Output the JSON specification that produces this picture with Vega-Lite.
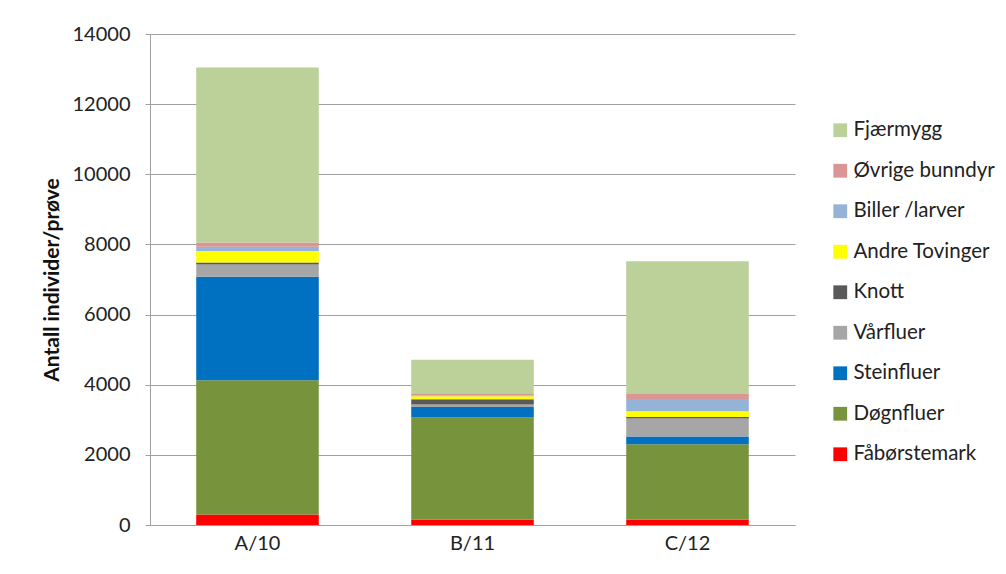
{
  "$schema": "https://vega.github.io/schema/vega-lite/v6.json",
  "width": 645,
  "height": 491,
  "autosize": "none",
  "padding": {"left": 150, "top": 34, "right": 211, "bottom": 49},
  "background": "white",
  "data": {
    "values": [
      {"stasjon": "A/10", "gruppe": "Fåbørstemark", "o": 1, "antall": 300},
      {"stasjon": "A/10", "gruppe": "Døgnfluer", "o": 2, "antall": 3830},
      {"stasjon": "A/10", "gruppe": "Steinfluer", "o": 3, "antall": 2950},
      {"stasjon": "A/10", "gruppe": "Vårfluer", "o": 4, "antall": 350},
      {"stasjon": "A/10", "gruppe": "Knott", "o": 5, "antall": 57},
      {"stasjon": "A/10", "gruppe": "Andre Tovinger", "o": 6, "antall": 323},
      {"stasjon": "A/10", "gruppe": "Biller /larver", "o": 7, "antall": 123},
      {"stasjon": "A/10", "gruppe": "Øvrige bunndyr", "o": 8, "antall": 125},
      {"stasjon": "A/10", "gruppe": "Fjærmygg", "o": 9, "antall": 4990},
      {"stasjon": "B/11", "gruppe": "Fåbørstemark", "o": 1, "antall": 150},
      {"stasjon": "B/11", "gruppe": "Døgnfluer", "o": 2, "antall": 2914},
      {"stasjon": "B/11", "gruppe": "Steinfluer", "o": 3, "antall": 303},
      {"stasjon": "B/11", "gruppe": "Vårfluer", "o": 4, "antall": 68},
      {"stasjon": "B/11", "gruppe": "Knott", "o": 5, "antall": 151},
      {"stasjon": "B/11", "gruppe": "Andre Tovinger", "o": 6, "antall": 86},
      {"stasjon": "B/11", "gruppe": "Biller /larver", "o": 7, "antall": 20},
      {"stasjon": "B/11", "gruppe": "Øvrige bunndyr", "o": 8, "antall": 40},
      {"stasjon": "B/11", "gruppe": "Fjærmygg", "o": 9, "antall": 981},
      {"stasjon": "C/12", "gruppe": "Fåbørstemark", "o": 1, "antall": 150},
      {"stasjon": "C/12", "gruppe": "Døgnfluer", "o": 2, "antall": 2150},
      {"stasjon": "C/12", "gruppe": "Steinfluer", "o": 3, "antall": 220},
      {"stasjon": "C/12", "gruppe": "Vårfluer", "o": 4, "antall": 514},
      {"stasjon": "C/12", "gruppe": "Knott", "o": 5, "antall": 45},
      {"stasjon": "C/12", "gruppe": "Andre Tovinger", "o": 6, "antall": 163},
      {"stasjon": "C/12", "gruppe": "Biller /larver", "o": 7, "antall": 351},
      {"stasjon": "C/12", "gruppe": "Øvrige bunndyr", "o": 8, "antall": 143},
      {"stasjon": "C/12", "gruppe": "Fjærmygg", "o": 9, "antall": 3786}
    ]
  },
  "mark": {"type": "bar"},
  "encoding": {
    "x": {
      "field": "stasjon",
      "type": "nominal",
      "sort": null,
      "scale": {"paddingInner": 0.43, "paddingOuter": 0.215},
      "axis": {
        "title": null,
        "labelAngle": 0,
        "labelFont": "Lato",
        "labelFontSize": 20,
        "labelColor": "#222222",
        "labelPadding": 8,
        "domainColor": "#a0a0a0",
        "ticks": false
      }
    },
    "y": {
      "field": "antall",
      "type": "quantitative",
      "aggregate": "sum",
      "stack": "zero",
      "scale": {"domain": [0, 14000], "nice": false},
      "axis": {
        "title": "Antall individer/prøve",
        "titleFont": "Lato",
        "titleFontSize": 21,
        "titleFontWeight": "bold",
        "titleColor": "#111111",
        "titlePadding": 10,
        "values": [0, 2000, 4000, 6000, 8000, 10000, 12000, 14000],
        "format": "d",
        "labelFont": "Lato",
        "labelFontSize": 20,
        "labelColor": "#222222",
        "labelPadding": 15,
        "tickSize": 5,
        "tickColor": "#a0a0a0",
        "domainColor": "#a0a0a0",
        "gridColor": "#a0a0a0",
        "grid": true
      }
    },
    "order": {"field": "o", "type": "quantitative", "sort": "ascending"},
    "color": {
      "field": "gruppe",
      "type": "nominal",
      "scale": {
        "domain": ["Fjærmygg", "Øvrige bunndyr", "Biller /larver", "Andre Tovinger", "Knott", "Vårfluer", "Steinfluer", "Døgnfluer", "Fåbørstemark"],
        "range": ["#bcd09a", "#d99694", "#95b3d7", "#ffff00", "#595959", "#a6a6a6", "#0070c0", "#77933c", "#ff0000"]
      },
      "legend": {
        "title": null,
        "orient": "none",
        "legendX": 680,
        "legendY": 86,
        "symbolType": "square",
        "symbolSize": 190,
        "symbolStrokeWidth": 0,
        "labelFont": "Lato",
        "labelFontSize": 20.5,
        "labelColor": "#222222",
        "labelOffset": 3,
        "rowPadding": 19.5
      }
    }
  },
  "config": {
    "view": {"stroke": null}
  }
}
